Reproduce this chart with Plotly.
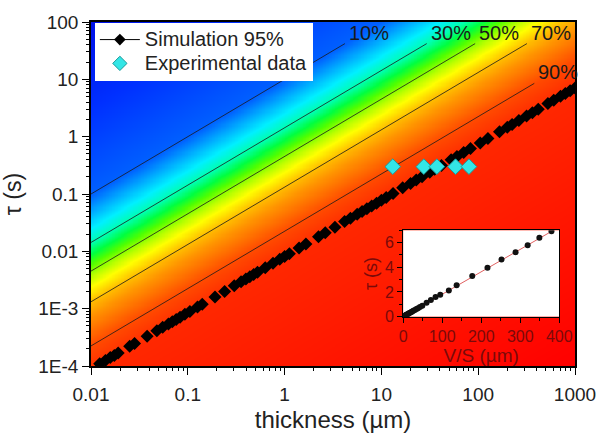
import numpy as np
import plotly.graph_objects as go

# ---------------- data ----------------
# contour levels (%) and where they sit: log10(tau / thickness)
contour_levels = [10, 30, 50, 70, 90]
contour_log_ratio = [1.0, 0.155, -0.345, -0.88, -1.65]
contour_label_tau = [42, 42, 42, 42, 8.5]   # tau (s) where each line stops / its label sits
contour_labels = ["10%", "30%", "50%", "70%", "90%"]

# background field anchors (log ratio -> %), incl. the 95% level
field_log_ratio = [-7.0, -2.15, -1.65, -0.88, -0.345, 0.155, 1.0, 4.0]
field_level = [100, 95, 90, 70, 50, 30, 10, 0]

# Simulation 95 % (thickness um, tau s)
sim_thick = [0.0123, 0.0141, 0.0158, 0.0174, 0.0191, 0.0251, 0.0282, 0.0380, 0.0479,
             0.0550, 0.0631, 0.0692, 0.0759, 0.0832, 0.0933, 0.105, 0.126, 0.141, 0.191,
             0.240, 0.302, 0.355, 0.398, 0.437, 0.479, 0.525, 0.631, 0.759, 0.891, 1.00,
             1.12, 1.41, 1.66, 2.24, 2.63, 3.31, 4.17, 4.79, 5.62, 6.31, 7.08, 7.94, 8.91,
             10.0, 11.2, 13.2, 16.6, 20.0, 22.9, 26.3, 31.6, 35.5, 41.7, 52.5, 60.3, 70.8,
             83.2, 105, 126, 166, 200, 224, 263, 316, 363, 417, 525, 603, 708, 794, 891, 1000]
sim_tau = [1.09e-4, 1.25e-4, 1.40e-4, 1.53e-4, 1.68e-4, 2.20e-4, 2.46e-4, 3.30e-4, 4.13e-4,
           4.73e-4, 5.42e-4, 5.93e-4, 6.49e-4, 7.11e-4, 7.96e-4, 8.91e-4, 1.07e-3, 1.19e-3,
           1.60e-3, 2.00e-3, 2.51e-3, 2.94e-3, 3.30e-3, 3.61e-3, 3.95e-3, 4.32e-3, 5.18e-3,
           6.20e-3, 7.26e-3, 8.13e-3, 9.10e-3, 1.14e-2, 1.34e-2, 1.79e-2, 2.10e-2, 2.63e-2,
           3.30e-2, 3.77e-2, 4.42e-2, 4.94e-2, 5.53e-2, 6.19e-2, 6.93e-2, 7.76e-2, 8.69e-2,
           0.102, 0.128, 0.153, 0.175, 0.200, 0.240, 0.269, 0.315, 0.394, 0.451, 0.528,
           0.619, 0.776, 0.929, 1.22, 1.46, 1.63, 1.91, 2.29, 2.62, 3.00, 3.77, 4.31, 5.05,
           5.65, 6.32, 7.08]

# Experimental data
exp_thick = [13.1, 27.4, 37.4, 58.3, 80.3]
exp_tau = [0.30, 0.30, 0.30, 0.30, 0.30]

# Inset: tau vs V/S
inset_vs = [0, 2, 4, 6, 8, 10, 12, 14, 17, 20, 23, 26, 30, 34, 38, 43, 49, 60, 71, 83,
            95, 117, 137, 177, 216, 252, 288, 319, 349, 380]
inset_tau = [0, 0.04, 0.07, 0.11, 0.15, 0.18, 0.22, 0.25, 0.31, 0.36, 0.42, 0.47, 0.55,
             0.62, 0.69, 0.78, 0.89, 1.13, 1.36, 1.59, 1.77, 2.13, 2.54, 3.30, 3.97, 4.64,
             5.23, 5.79, 6.40, 6.92]
fit_vs = [0, 385]
fit_tau = [0, 7.0]

x_ticks = [0.01, 0.1, 1, 10, 100, 1000]
x_ticktext = ["0.01", "0.1", "1", "10", "100", "1000"]
y_ticks = [1e-4, 1e-3, 1e-2, 0.1, 1, 10, 100]
y_ticktext = ["1E-4", "1E-3", "0.01", "0.1", "1", "10", "100"]

# ---------------- figure ----------------
FONT = "Liberation Sans, Arial, sans-serif"

gx = 10 ** np.linspace(-2, 3, 320)
gy = 10 ** np.linspace(-4, 2, 320)
LR = np.log10(gy)[:, None] - np.log10(gx)[None, :]
Z = np.interp(LR, field_log_ratio, field_level)

colorscale = [
    [0.00, "#0010e8"], [0.05, "#0030ff"], [0.10, "#0060ff"], [0.17, "#00a8ff"],
    [0.24, "#00f0ff"], [0.30, "#00ffb0"], [0.38, "#00ff40"], [0.45, "#50ff00"],
    [0.53, "#b8ff00"], [0.60, "#ffff00"], [0.68, "#ffc800"], [0.76, "#ff9400"],
    [0.84, "#ff6a00"], [0.90, "#ff4a00"], [0.95, "#ff2800"], [1.00, "#ff0000"],
]

fig = go.Figure()
fig.add_trace(go.Heatmap(x=gx, y=gy, z=Z, zmin=0, zmax=100, colorscale=colorscale,
                         zsmooth="best", showscale=False, hoverinfo="skip"))

# contour lines
for lvl, lr, t_end, lab in zip(contour_levels, contour_log_ratio, contour_label_tau, contour_labels):
    r = 10 ** lr
    x0 = 0.01
    xe = t_end / r
    fig.add_trace(go.Scatter(x=[x0, xe], y=[r * x0, t_end], mode="lines",
                             line=dict(color="#1a1a1a", width=0.8), showlegend=False,
                             hoverinfo="skip"))
    fig.add_annotation(x=np.log10(xe), y=np.log10(t_end), text=lab, showarrow=False,
                       xanchor="left", yanchor="bottom", xref="x", yref="y",
                       xshift=2, yshift=-2,
                       font=dict(family=FONT, size=20, color="#1a1a1a"))

fig.add_trace(go.Scatter(x=sim_thick, y=sim_tau, mode="markers", showlegend=False,
                         marker=dict(symbol="diamond", size=10, color="black")))
fig.add_trace(go.Scatter(x=exp_thick, y=exp_tau, mode="markers", showlegend=False,
                         marker=dict(symbol="diamond", size=12, color="#33e6e6",
                                     line=dict(color="#1a9a9a", width=1))))
# legend entries
LEG = '<span style="font-size:20px">{}</span>'
fig.add_trace(go.Scatter(x=[None], y=[None], mode="lines+markers", name=LEG.format("Simulation 95%"),
                         line=dict(color="black", width=1),
                         marker=dict(symbol="diamond", size=9, color="black")))
fig.add_trace(go.Scatter(x=[None], y=[None], mode="markers", name=LEG.format("Experimental data"),
                         marker=dict(symbol="diamond", size=11, color="#33e6e6",
                                     line=dict(color="#1a9a9a", width=1))))

# inset
fig.add_trace(go.Scatter(x=fit_vs, y=fit_tau, mode="lines", xaxis="x2", yaxis="y2",
                         line=dict(color="#e06060", width=1), showlegend=False))
fig.add_trace(go.Scatter(x=inset_vs, y=inset_tau, mode="markers", xaxis="x2", yaxis="y2",
                         marker=dict(symbol="circle", size=6, color="#111"), showlegend=False))

# empty helper traces carrying the minor-tick overlay axes
fig.add_trace(go.Scatter(x=[None], y=[None], xaxis="x3", yaxis="y", showlegend=False,
                         hoverinfo="skip"))
fig.add_trace(go.Scatter(x=[None], y=[None], xaxis="x", yaxis="y3", showlegend=False,
                         hoverinfo="skip"))

minor_x = [m * 10.0 ** d for d in range(-2, 3) for m in range(2, 10)]
minor_y = [m * 10.0 ** d for d in range(-4, 2) for m in range(2, 10)]

axis_common = dict(showline=True, linecolor="black", linewidth=1.5, mirror=True,
                   ticks="outside", ticklen=7, tickwidth=1.2, tickcolor="black",
                   showgrid=False, zeroline=False,
                   tickfont=dict(family=FONT, size=19, color="#222"))

inset_red = "#7a0a0a"
fig.update_layout(
    width=608, height=441,
    margin=dict(l=91, r=24, t=13, b=65),
    paper_bgcolor="white", plot_bgcolor="white",
    font=dict(family=FONT, color="#222"),
    xaxis=dict(type="log", range=[-2, 3], tickvals=x_ticks, ticktext=x_ticktext,
               ticklabelstandoff=3,
               title=dict(text="thickness (µm)", font=dict(family=FONT, size=24, color="#222"),
                          standoff=8),
               **axis_common),
    yaxis=dict(type="log", range=[-4, 2], tickvals=y_ticks, ticktext=y_ticktext,
               title=dict(text="τ (s)", font=dict(family=FONT, size=23, color="#222"),
                          standoff=10),
               **axis_common),
    xaxis3=dict(type="log", range=[-2, 3], overlaying="x", anchor="y", side="bottom",
                tickmode="array", tickvals=minor_x, ticks="outside", ticklen=4, tickwidth=1,
                tickcolor="black", showticklabels=False, showline=False, showgrid=False,
                zeroline=False),
    yaxis3=dict(type="log", range=[-4, 2], overlaying="y", anchor="x", side="left",
                tickmode="array", tickvals=minor_y, ticks="outside", ticklen=4, tickwidth=1,
                tickcolor="black", showticklabels=False, showline=False, showgrid=False,
                zeroline=False),
    xaxis2=dict(domain=[0.645, 0.9675], anchor="y2", range=[0, 400], tickvals=[0, 100, 200, 300, 400],
                showline=True, linecolor="black", linewidth=1, mirror=True,
                ticks="outside", ticklen=5, tickcolor="black", showgrid=False, zeroline=False,
                minor=dict(dtick=50, ticks="outside", ticklen=3, tickcolor="black"),
                tickfont=dict(family=FONT, size=16, color=inset_red),
                title=dict(text="V/S (µm)", font=dict(family=FONT, size=19, color=inset_red),
                           standoff=0)),
    yaxis2=dict(domain=[0.1434, 0.3945], anchor="x2", range=[0, 7], tickvals=[0, 2, 4, 6],
                showline=True, linecolor="black", linewidth=1, mirror=True,
                ticks="outside", ticklen=5, tickcolor="black", showgrid=False, zeroline=False,
                minor=dict(dtick=1, ticks="outside", ticklen=3, tickcolor="black"),
                tickfont=dict(family=FONT, size=16, color=inset_red),
                title=dict(text="τ (s)", font=dict(family=FONT, size=18, color=inset_red),
                           standoff=2)),
    legend=dict(x=0.008, y=0.998, xanchor="left", yanchor="top", bgcolor="white",
                font=dict(family=FONT, size=16, color="#222"), tracegroupgap=0,
                borderwidth=0, itemwidth=40),
    showlegend=True,
)

fig.write_html("out.html")
